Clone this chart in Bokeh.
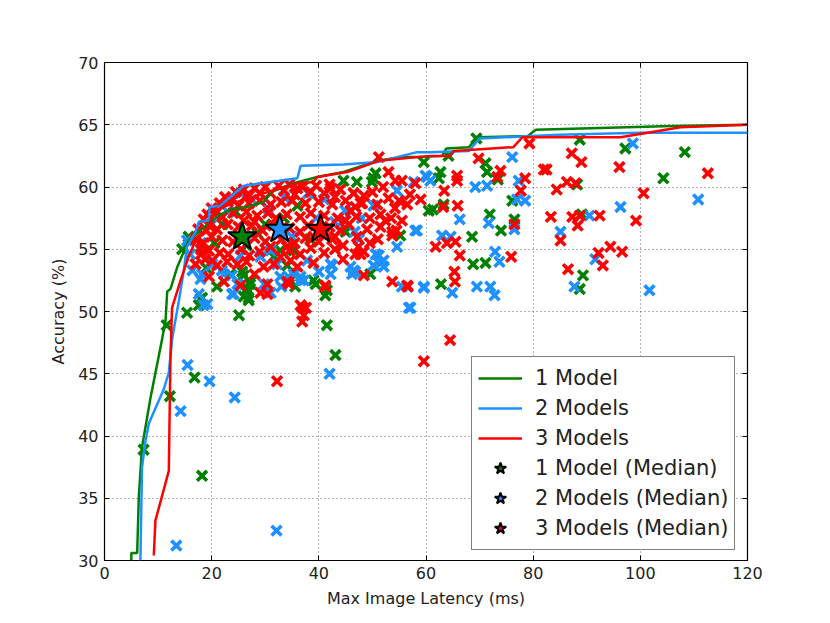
from bokeh.plotting import figure
from bokeh.models import LinearAxis, Legend, LegendItem, FixedTicker, Range1d
from bokeh.embed import file_html
from bokeh.resources import INLINE

# ---------------- data ----------------
green_x = [7.3, 11.6, 12.2, 16.8, 18.2, 15.4, 17.6, 17.9, 18.2, 25.1, 26.9, 26.9, 26.6, 26.6, 26.0, 25.7, 27.2,
           41.5, 43.1, 39.4, 41.2, 35.6, 34.7, 31.6, 34.1, 32.8, 15.7, 14.5, 49.6, 45.0, 55.2, 44.6, 47.1, 49.9,
           50.6, 59.6, 60.5, 62.8, 68.8, 71.1, 68.6, 69.4, 88.7, 97.2, 108.3, 64.2, 71.1, 71.4, 73.4, 104.3, 62.7,
           62.4, 88.2, 76.1, 63.3, 61.3, 71.9, 74.0, 76.5, 89.1, 89.3, 88.7, 35.3, 38.4, 39.0, 41.5, 26.0, 27.2,
           22.0, 24.5, 28.5, 30.0, 20.5, 33.5, 36.0, 26.5, 23.5, 19.0, 21.0, 50.2]
green_y = [38.9, 48.9, 43.2, 44.7, 36.8, 49.9, 50.5, 51.0, 51.1, 49.7, 50.9, 51.1, 51.5, 51.8, 52.9, 53.2, 52.4,
           48.9, 46.5, 52.2, 51.3, 52.0, 52.5, 54.4, 53.7, 54.9, 56.0, 55.0, 53.0, 56.4, 56.1, 60.5, 60.4, 60.4,
           61.1, 62.0, 58.1, 52.2, 53.8, 53.9, 56.0, 63.9, 63.8, 63.1, 62.8, 62.5, 61.9, 61.2, 60.6, 60.7, 61.2,
           60.7, 60.2, 58.9, 58.6, 58.2, 57.8, 56.5, 57.4, 57.8, 52.9, 51.8, 54.9, 55.8, 52.5, 51.7, 51.2, 52.2,
           57.0, 58.0, 56.3, 57.0, 55.5, 57.5, 58.5, 55.3, 53.0, 53.5, 52.0, 60.7]

blue_x = [13.4, 32.1, 14.2, 15.5, 19.6, 24.3, 42.0, 19.2, 17.6, 18.5, 17.9, 18.2, 16.4, 15.4, 16.0, 22.3, 23.8,
          24.8, 24.1, 21.9, 23.8, 29.8, 33.0, 34.3, 31.0, 32.8, 35.3, 36.6, 37.2, 36.6, 20.1, 25.4, 29.1, 31.0,
          32.2, 37.8, 42.2, 42.2, 42.5, 46.5, 46.2, 45.9, 46.8, 50.6, 52.1, 50.2, 51.8, 52.1, 51.2, 54.6, 55.5,
          56.5, 59.6, 57.1, 56.8, 59.6, 64.9, 69.5, 72.0, 72.8, 87.7, 101.7, 91.6, 72.9, 73.7, 63.0, 64.6, 58.3,
          58.0, 85.1, 76.5, 71.7, 66.3, 90.5, 96.3, 110.8, 77.0, 78.5, 77.3, 69.2, 71.4, 60.2, 60.8, 76.1, 98.6,
          57.7, 59.9, 54.6, 50.2, 44.9, 44.6, 47.5, 46.7, 25.4, 23.0, 20.0, 27.5, 30.5, 33.5, 38.0, 41.0, 18.0,
          26.5, 35.0, 39.5, 43.0, 48.0, 40.0]
blue_y = [31.2, 32.4, 42.0, 45.7, 44.4, 43.1, 45.0, 50.6, 51.4, 50.5, 52.6, 53.0, 53.3, 55.7, 54.6, 53.0, 51.4,
          52.2, 51.4, 53.3, 52.9, 52.2, 52.0, 52.8, 51.5, 52.8, 53.0, 52.5, 52.5, 52.8, 53.8, 54.5, 54.4, 54.9,
          53.8, 54.1, 53.8, 53.0, 53.7, 53.3, 53.0, 53.6, 53.2, 54.6, 54.1, 53.7, 54.0, 53.6, 54.5, 55.2, 52.0,
          52.0, 52.0, 50.3, 50.3, 51.9, 51.5, 52.0, 52.0, 51.3, 52.0, 51.7, 54.2, 54.8, 54.0, 56.1, 56.0, 56.5,
          56.5, 56.4, 56.6, 57.1, 57.4, 57.7, 58.4, 59.0, 59.0, 58.9, 60.5, 60.0, 60.1, 60.8, 60.5, 62.4, 63.5,
          60.4, 60.9, 59.7, 58.5, 58.1, 57.3, 55.8, 56.4, 59.5, 58.0, 57.0, 59.0, 58.3, 59.2, 59.5, 59.0, 55.5,
          56.0, 56.0, 57.5, 57.2, 57.5, 53.2]

red_x = [22.5, 24.5, 26.0, 28.0, 30.0, 32.5, 34.5, 37.0, 39.5, 42.0, 44.0, 46.5, 48.4, 27.0, 31.0, 35.5,
         20.0, 21.5, 23.0, 25.0, 27.0, 29.0, 31.0, 33.0, 35.0, 37.5, 40.0, 42.5, 45.0, 47.8, 19.2,
         18.5, 20.5, 22.0, 24.0, 26.5, 28.5, 30.5, 32.0, 34.0, 36.5, 38.5, 41.0, 43.5, 45.9,
         17.5, 19.5, 21.0, 23.0, 25.0, 27.5, 29.5, 31.5, 34.5, 36.5, 38.0, 42.0, 44.0, 45.6, 49.0,
         17.0, 18.5, 20.0, 22.0, 24.0, 28.0, 30.0, 33.0, 35.5, 37.5, 40.0, 42.5, 44.5, 47.1,
         18.0, 19.5, 21.5, 23.1, 25.5, 27.0, 29.0, 32.8, 34.5, 36.5, 38.5, 41.0, 43.0, 47.4, 47.8,
         17.0, 18.8, 20.1, 21.0, 22.9, 24.8, 29.7, 31.6, 34.7, 36.0, 39.0,
         22.3, 25.4, 29.1, 30.4, 30.4, 34.1, 34.4, 41.2, 28.0, 19.5, 37.0, 37.6, 37.2, 36.9, 32.2,
         50.9, 51.5, 51.5, 52.4, 53.7, 53.0, 55.0, 56.5, 54.2, 53.5, 55.5, 54.5, 53.0, 54.3, 58.0, 59.0, 51.2,
         46.5, 46.8, 48.1, 48.4, 48.4, 46.8, 41.2, 53.7, 56.5, 56.6, 53.7, 61.8, 63.9, 65.5, 66.3, 65.3, 65.4,
         59.6, 64.5, 69.8, 79.3, 87.2, 89.0, 96.1, 82.0, 82.5, 73.9, 73.3, 78.5, 65.8, 65.8, 84.4, 86.3, 87.9,
         77.7, 100.6, 112.6, 63.4, 63.2, 65.9, 76.5, 83.3, 87.3, 88.7, 88.3, 92.4, 99.2, 85.1, 75.9, 92.2, 94.4,
         96.6, 93.0, 86.5, 42.2, 36.6,
         24.0, 26.5, 29.0, 33.5, 36.0, 38.5, 41.0, 43.0, 21.0, 19.0, 18.0, 39.0, 41.0, 43.0, 45.0, 47.0,
         49.5, 49.5, 51.0, 50.0, 52.0, 55.5, 57.0, 44.5, 26.0, 28.0, 32.5, 34.0, 31.0, 26.5]
red_y = [59.2, 59.6, 59.8, 59.9, 60.0, 60.1, 60.2, 60.0, 60.1, 60.2, 59.8, 59.5, 59.3, 59.3, 59.5, 59.4,
         58.3, 58.7, 58.8, 58.5, 58.7, 58.9, 58.6, 58.8, 58.9, 58.7, 58.8, 58.6, 58.9, 58.7, 57.8,
         57.4, 57.8, 57.6, 57.9, 58.0, 57.7, 57.9, 57.5, 57.8, 57.6, 57.9, 57.7, 57.5, 58.1,
         56.6, 56.9, 56.6, 57.0, 56.8, 56.9, 56.5, 56.9, 56.7, 56.4, 56.9, 56.8, 56.5, 57.0, 56.6,
         55.8, 55.5, 56.0, 55.7, 55.6, 55.9, 55.6, 55.8, 55.5, 55.9, 55.6, 55.8, 55.3, 56.0,
         54.6, 54.9, 54.7, 54.6, 55.0, 54.5, 54.8, 54.4, 54.9, 54.6, 55.1, 54.7, 55.0, 55.2, 54.6,
         53.8, 54.2, 54.1, 53.7, 54.0, 53.8, 53.6, 53.8, 54.1, 53.6, 53.9,
         52.4, 52.1, 51.5, 51.4, 52.2, 52.4, 52.2, 52.0, 53.0, 52.8, 50.3, 50.3, 49.7, 49.2, 44.4,
         58.6, 57.8, 56.8, 57.3, 56.1, 59.1, 58.9, 58.6, 58.3, 57.5, 57.3, 56.5, 61.2, 60.5, 60.3, 59.0, 62.4,
         59.5, 58.4, 58.7, 52.9, 54.8, 54.6, 52.1, 52.4, 52.1, 52.0, 56.4, 55.2, 55.5, 55.6, 54.5, 53.2, 52.4,
         46.0, 47.7, 62.3, 63.5, 62.7, 62.0, 61.6, 61.4, 61.4, 61.3, 60.8, 60.7, 60.9, 60.5, 59.8, 60.4, 60.3,
         59.7, 59.5, 61.1, 59.7, 58.4, 58.5, 57.0, 57.6, 57.6, 57.7, 56.9, 57.7, 57.3, 55.7, 54.4, 54.7, 55.2,
         54.8, 53.7, 53.4, 59.9, 50.5,
         59.0, 59.3, 59.5, 59.7, 59.9, 59.6, 59.5, 59.2, 58.0, 56.5, 55.0, 56.0, 56.2, 56.0, 57.3, 57.6,
         57.5, 55.5, 55.8, 59.6, 60.0, 60.5, 59.4, 54.2, 57.3, 57.2, 56.2, 55.2, 55.2, 54.0]

front1_x = [5.0, 5.0, 6.1, 6.4, 7.0, 8.6, 10.8, 11.4, 11.7, 12.3, 12.6, 13.6, 14.8, 15.7, 17.9, 19.8, 21.3,
            23.5, 26.6, 29.7, 31.0, 35.3, 39.7, 44.6, 50.9, 55.2, 59.0, 63.0, 63.8, 68.0, 69.5, 79.0, 80.5,
            106.0, 120.0]
front1_y = [30.0, 30.6, 30.6, 35.1, 39.1, 43.1, 47.9, 49.3, 51.6, 51.8, 52.2, 53.6, 54.8, 55.7, 56.5, 57.2,
            57.7, 58.2, 58.4, 58.8, 59.6, 60.3, 60.8, 61.2, 62.1, 62.4, 62.4, 62.5, 63.1, 63.2, 64.0, 64.1,
            64.6, 64.9, 65.0]

front2_x = [6.7, 7.0, 7.65, 8.27, 11.1, 12.0, 12.6, 12.9, 13.9, 14.8, 15.4, 17.0, 17.6, 19.5, 19.6, 21.6,
            23.5, 25.4, 26.0, 31.0, 36.0, 36.6, 44.6, 50.9, 58.3, 60.8, 68.0, 70.0, 85.0, 100.0, 120.0]
front2_y = [30.0, 37.5, 39.6, 41.0, 43.8, 45.1, 47.7, 48.5, 50.9, 53.3, 55.2, 56.4, 57.2, 57.3, 58.4, 58.5,
            59.2, 59.9, 60.1, 60.4, 60.7, 61.7, 61.8, 62.0, 62.8, 62.8, 62.9, 63.9, 64.2, 64.35, 64.35]

front3_x = [9.2, 9.5, 12.0, 12.3, 12.6, 14.2, 15.7, 16.7, 18.2, 19.5, 20.4, 22.3, 23.5, 25.4, 29.7, 36.0,
            39.0, 39.7, 45.3, 51.2, 60.8, 64.5, 65.2, 76.3, 78.0, 96.3, 107.5, 120.0]
front3_y = [30.4, 33.2, 37.2, 46.1, 50.3, 52.5, 54.4, 55.4, 56.2, 56.9, 58.1, 58.4, 58.6, 58.9, 59.5, 60.3,
            60.4, 60.8, 61.2, 62.1, 62.5, 62.5, 62.9, 63.2, 64.0, 64.0, 64.8, 65.0]

median_x = [25.7, 32.7, 40.3]
median_y = [56.0, 56.6, 56.6]

x_ticks = [0, 20, 40, 60, 80, 100, 120]
y_ticks = [30, 35, 40, 45, 50, 55, 60, 65, 70]

GREEN = "#008000"
BLUE = "#1E90FF"
RED = "#FF0000"
FONT = "DejaVu Sans"

# ---------------- figure ----------------
p = figure(frame_width=643, frame_height=498, output_backend="svg", toolbar_location=None,
           x_range=Range1d(0, 120), y_range=Range1d(30, 70),
           min_border_left=104, min_border_top=62, min_border_right=70, min_border_bottom=50,
           background_fill_color="white", border_fill_color="white")
p.outline_line_color = "black"
p.outline_line_width = 1.2

for ax in [p.xaxis[0], p.yaxis[0]]:
    ax.major_label_text_font = FONT
    ax.major_label_text_font_size = "16px"
    ax.major_label_text_color = "#222222"
    ax.axis_label_text_font = FONT
    ax.axis_label_text_font_size = "16px"
    ax.axis_label_text_font_style = "normal"
    ax.axis_label_text_color = "#222222"
    ax.axis_line_color = None
    ax.major_tick_in = 5
    ax.major_tick_out = 0
    ax.minor_tick_line_color = None
    ax.major_tick_line_color = "black"

p.xaxis[0].ticker = FixedTicker(ticks=x_ticks)
p.yaxis[0].ticker = FixedTicker(ticks=y_ticks)
p.xaxis[0].axis_label = "Max Image Latency (ms)"
p.yaxis[0].axis_label = "Accuracy (%)"
p.xaxis[0].axis_label_standoff = 7
p.yaxis[0].axis_label_standoff = 7
p.xaxis[0].major_label_standoff = 6
p.yaxis[0].major_label_standoff = 6

# tick marks only (no labels) on top and right, as in the classic style
top_ax = LinearAxis(ticker=FixedTicker(ticks=x_ticks), major_label_text_color=None,
                    axis_line_color=None, major_tick_in=5, major_tick_out=0,
                    minor_tick_line_color=None)
right_ax = LinearAxis(ticker=FixedTicker(ticks=y_ticks), major_label_text_color=None,
                      axis_line_color=None, major_tick_in=5, major_tick_out=0,
                      minor_tick_line_color=None)
p.add_layout(top_ax, "above")
p.add_layout(right_ax, "right")

p.xgrid.ticker = FixedTicker(ticks=x_ticks)
p.ygrid.ticker = FixedTicker(ticks=y_ticks)
for g in [p.xgrid[0], p.ygrid[0]]:
    g.grid_line_color = "black"
    g.grid_line_alpha = 0.6
    g.grid_line_dash = "1 3"
    g.grid_line_width = 1

# scatter
MS = 14
MW = 3.6
p.scatter(green_x, green_y, marker="x", size=MS, line_width=MW, line_color=GREEN)
p.scatter(blue_x, blue_y, marker="x", size=MS, line_width=MW, line_color=BLUE)
p.scatter(red_x, red_y, marker="x", size=MS, line_width=MW, line_color=RED)

# frontiers
l1 = p.line(front1_x, front1_y, line_color=GREEN, line_width=2.5)
l2 = p.line(front2_x, front2_y, line_color=BLUE, line_width=2.5)
l3 = p.line(front3_x, front3_y, line_color=RED, line_width=2.5)

# medians
s1 = p.scatter([median_x[0]], [median_y[0]], marker="star", size=30, fill_color=GREEN,
               line_color="black", line_width=2)
s2 = p.scatter([median_x[1]], [median_y[1]], marker="star", size=30, fill_color=BLUE,
               line_color="black", line_width=2)
s3 = p.scatter([median_x[2]], [median_y[2]], marker="star", size=30, fill_color=RED,
               line_color="black", line_width=2)

legend = Legend(items=[
    LegendItem(label="1 Model", renderers=[l1]),
    LegendItem(label="2 Models", renderers=[l2]),
    LegendItem(label="3 Models", renderers=[l3]),
    LegendItem(label="1 Model (Median)", renderers=[s1]),
    LegendItem(label="2 Models (Median)", renderers=[s2]),
    LegendItem(label="3 Models (Median)", renderers=[s3]),
], location=(367, 10))
legend.label_text_font = FONT
legend.label_text_font_size = "21px"
legend.label_text_color = "#222222"
legend.glyph_width = 44
legend.glyph_height = 30
legend.label_height = 30
legend.spacing = 0
legend.padding = 6
legend.margin = 0
legend.label_standoff = 13
legend.border_line_color = "black"
legend.border_line_width = 1.5
legend.background_fill_alpha = 1.0
p.add_layout(legend, "center")

open("out.html", "w").write(file_html(p, INLINE))
